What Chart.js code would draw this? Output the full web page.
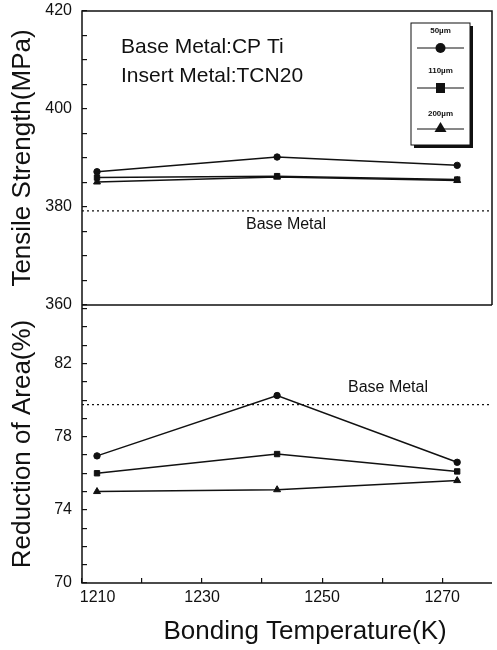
<!DOCTYPE html>
<html>
<head>
<meta charset="utf-8">
<script src="https://cdn.jsdelivr.net/npm/chart.js@4.4.1/dist/chart.umd.min.js"></script>
<style>
html,body{margin:0;padding:0;background:#fff;}
</style>
</head>
<body>
<canvas id="myChart" width="497" height="650"></canvas>
<script>
// bonding temperatures (K)
const temps=[1212.5,1242.5,1272.5];
// tensile strength (MPa) per insert thickness
const ts50=[387.2,390.2,388.5];
const ts110=[386.0,386.3,385.6];
const ts200=[385.1,386.1,385.4];
// reduction of area (%)
const ra50=[76.95,80.25,76.6];
const ra110=[76.0,77.05,76.1];
const ra200=[75.0,75.1,75.6];
// base metal reference values
const baseTS=379.2;
const baseRA=79.75;
const seriesNames=['50µm','110µm','200µm'];
const xTickLabels=[1210,1230,1250,1270];
const tsTickLabels=[360,380,400,420];
const raTickLabels=[70,74,78,82];

const FONT="'Liberation Sans', Arial, sans-serif";
const INK='#111';

function pts(arr){
    return temps.map((t,i)=>({x:t,y:arr[i]}));
}
function ds(arr,axis,style,r){
    return {data:pts(arr),yAxisID:axis,borderColor:INK,backgroundColor:INK,borderWidth:1.5,
        pointStyle:style,pointRadius:r,pointBorderWidth:1,tension:0};
}

const decor={
    id:'decor',
    beforeDatasetsDraw(chart){
        const {ctx,chartArea:a,scales}=chart;
        ctx.save();
        ctx.strokeStyle=INK;
        ctx.lineWidth=1.2;
        ctx.setLineDash([2,3]);
        [[scales.yTS,baseTS],[scales.yRA,baseRA]].forEach(([s,v])=>{
            const y=s.getPixelForValue(v);
            ctx.beginPath();ctx.moveTo(a.left,y);ctx.lineTo(a.right,y);ctx.stroke();
        });
        ctx.restore();
    },
    afterDraw(chart){
        const {ctx,chartArea:a,scales}=chart;
        const mid=scales.yTS.bottom;
        ctx.save();
        ctx.strokeStyle=INK;
        ctx.lineWidth=1.5;
        ctx.beginPath();
        ctx.moveTo(a.right,mid);ctx.lineTo(a.right,a.top);ctx.lineTo(a.left,a.top);
        ctx.lineTo(a.left,a.bottom);ctx.lineTo(a.right,a.bottom);
        ctx.moveTo(a.left,mid);ctx.lineTo(a.right,mid);
        ctx.stroke();

        // notes
        ctx.fillStyle=INK;
        ctx.textBaseline='middle';
        ctx.textAlign='left';
        ctx.font='21px '+FONT;
        ctx.fillText('Base Metal:CP Ti',121,47);
        ctx.fillText('Insert Metal:TCN20',121,76);
        ctx.textAlign='center';
        ctx.font='16px '+FONT;
        ctx.fillText('Base Metal',286,225);
        ctx.fillText('Base Metal',388,388);

        // legend box
        const bx=411,by=23,bw=59,bh=122;
        ctx.fillStyle='#fff';
        ctx.fillRect(bx,by,bw,bh);
        ctx.fillStyle=INK;
        ctx.fillRect(bx+bw,by+3,3,bh);
        ctx.fillRect(bx+3,by+bh,bw,3);
        ctx.lineWidth=1;
        ctx.strokeRect(bx,by,bw,bh);
        const cx=bx+bw/2;
        const rows=[[31,48],[71,88],[114,129]];
        ctx.font='bold 8px '+FONT;
        rows.forEach(([ty,my],i)=>{
            ctx.fillText(seriesNames[i],cx,ty);
            ctx.beginPath();ctx.moveTo(bx+6,my);ctx.lineTo(bx+bw-6,my);ctx.stroke();
            ctx.beginPath();
            if(i===0){ctx.arc(cx,my,5,0,Math.PI*2);}
            else if(i===1){ctx.rect(cx-4.5,my-5,9,10);}
            else{ctx.moveTo(cx,my-7);ctx.lineTo(cx+6,my+3);ctx.lineTo(cx-6,my+3);ctx.closePath();}
            ctx.fill();
        });
        ctx.restore();
    }
};

function yAxis(title,min,max,step,labels,weight){
    return {
        type:'linear',position:'left',stack:'main',stackWeight:weight,min:min,max:max,
        border:{display:false},
        grid:{drawOnChartArea:false,tickLength:-5,color:INK,lineWidth:1.2},
        ticks:{stepSize:step,padding:15,color:INK,font:{family:FONT,size:16},autoSkip:false,includeBounds:false,
            callback:v=>labels.includes(v)?String(v):''},
        title:{display:true,text:title,color:INK,font:{family:FONT,size:26},padding:{top:7,bottom:0}},
        afterFit:s=>{s.width=82;s.paddingTop=0;s.paddingBottom=0;}
    };
}

new Chart('myChart',{
    type:'line',
    data:{
        datasets:[
            ds(ts50,'yTS','circle',3.2),
            ds(ts110,'yTS','rect',3.8),
            ds(ts200,'yTS','triangle',4),
            ds(ra50,'yRA','circle',3.2),
            ds(ra110,'yRA','rect',3.8),
            ds(ra200,'yRA','triangle',4)
        ]
    },
    options:{
        responsive:false,
        animation:false,
        layout:{padding:{top:11,right:0,left:0,bottom:0}},
        plugins:{legend:{display:false},tooltip:{enabled:false}},
        scales:{
            x:{
                type:'linear',min:1210,max:1278.3,
                border:{display:false},
                grid:{drawOnChartArea:false,tickLength:-5,color:INK,lineWidth:1.2},
                ticks:{stepSize:10,padding:10,color:INK,font:{family:FONT,size:16},maxRotation:0,autoSkip:false,includeBounds:false,
                    callback:v=>xTickLabels.includes(v)?(v===1210?'       1210':String(v)):''},
                title:{display:true,text:'     Bonding Temperature(K)',color:INK,font:{family:FONT,size:26},padding:{top:0,bottom:3}},
                afterFit:s=>{s.height=67;s.paddingLeft=0;s.paddingRight=0;}
            },
            yRA:yAxis('Reduction of Area(%)',70,85.2,1,raTickLabels,278),
            yTS:yAxis('Tensile Strength(MPa)',360,420,5,tsTickLabels,294)
        }
    },
    plugins:[decor]
});
</script>
</body>
</html>
